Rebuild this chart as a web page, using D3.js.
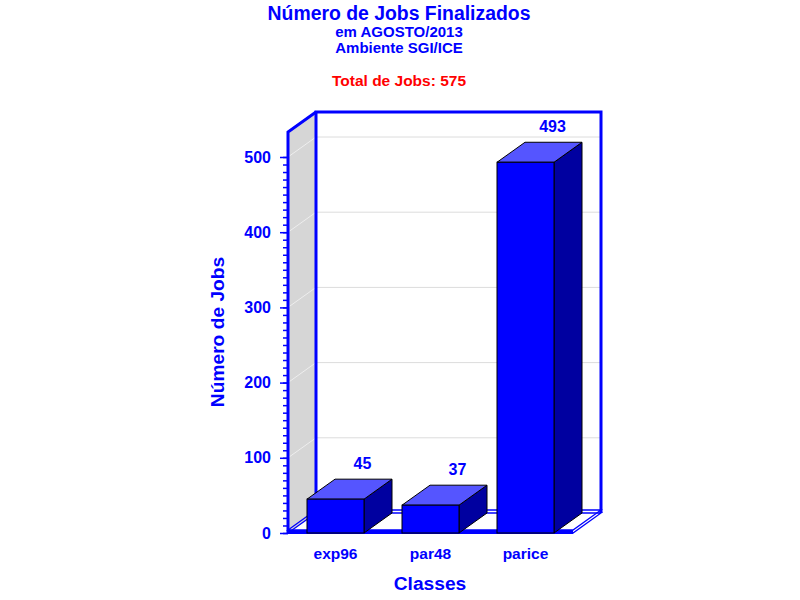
<!DOCTYPE html>
<html>
<head>
<meta charset="utf-8">
<script src="https://cdn.jsdelivr.net/npm/d3@7"></script>
<style>
  body { margin: 0; background: #fff; }
  text { font-family: "Liberation Sans", Arial, sans-serif; font-weight: bold; }
</style>
</head>
<body>
<div id="chart"></div>
<script>
// data
const categories = ["exp96", "par48", "parice"];
const jobs = [45, 37, 493];
const yTicks = [0, 100, 200, 300, 400, 500];
const minorTicks = d3.range(0, 501, 10);
const titleLines = ["Número de Jobs Finalizados", "em AGOSTO/2013", "Ambiente SGI/ICE"];
const totalLabel = "Total de Jobs: 575";
const yTitle = "Número de Jobs";
const xTitle = "Classes";

var width = 800,
  height = 600;

var blue = "#0000ff";

// 3d depth offset of the frame
var dx = 28,
  dy = -20;

var left = 288,
  right = 573,
  floorY = 533,
  topY = 132;

var x = d3
  .scaleBand()
  .domain(categories)
  .range([left, right])
  .paddingInner(0.4)
  .paddingOuter(0.2);

var y = d3.scaleLinear().domain([0, 500]).range([floorY, 157]);

var svg = d3
  .select("#chart")
  .append("svg")
  .attr("width", width)
  .attr("height", height);

var line = d3.line();

// left wall
svg
  .append("path")
  .attr("d", line([[left, floorY], [left, topY], [left + dx, topY + dy], [left + dx, floorY + dy]]) + "Z")
  .attr("fill", "#d6d6d6");

// wall grid lines
svg
  .selectAll(".wall-grid")
  .data(yTicks.slice(1))
  .enter()
  .append("path")
  .attr("class", "wall-grid")
  .attr("d", (d) => line([[left, y(d)], [left + dx, y(d) + dy]]))
  .attr("stroke", "#eeeeee")
  .attr("stroke-width", 1);

// back wall grid lines
svg
  .selectAll(".back-grid")
  .data(yTicks.slice(1))
  .enter()
  .append("path")
  .attr("class", "back-grid")
  .attr("d", (d) => line([[left + dx, y(d) + dy], [right + dx, y(d) + dy]]))
  .attr("stroke", "#dcdcdc")
  .attr("stroke-width", 1);

// floor slab: two outlines
[0, -3].forEach(function (off) {
  svg
    .append("path")
    .attr("d", line([[left, floorY + off], [right, floorY + off], [right + dx, floorY + dy + off], [left + dx, floorY + dy + off]]) + "Z")
    .attr("fill", "none")
    .attr("stroke", blue)
    .attr("stroke-width", 1.3);
});
svg
  .append("path")
  .attr("d", line([[left, floorY - 1], [right, floorY - 1]]))
  .attr("stroke", blue)
  .attr("stroke-width", 4);

// frame edges
svg
  .append("path")
  .attr("d", line([[left + dx, floorY + dy], [left + dx, topY + dy], [right + dx, topY + dy], [right + dx, floorY + dy]]))
  .attr("fill", "none")
  .attr("stroke", blue)
  .attr("stroke-width", 3);
svg
  .append("path")
  .attr("d", line([[left, floorY], [left, topY], [left + dx, topY + dy]]))
  .attr("fill", "none")
  .attr("stroke", blue)
  .attr("stroke-width", 3);

// y axis ticks
svg
  .append("g")
  .attr("transform", "translate(" + left + ",0)")
  .call(d3.axisLeft(y).tickValues(minorTicks).tickSize(5).tickFormat(""))
  .call((g) => g.select(".domain").remove())
  .call((g) => g.selectAll("line").attr("stroke", blue).attr("stroke-width", 1.5));

var yAxis = svg
  .append("g")
  .attr("transform", "translate(" + left + ",0)")
  .call(d3.axisLeft(y).tickValues(yTicks).tickSize(8).tickPadding(9))
  .call((g) => g.select(".domain").remove());
yAxis.selectAll("line").attr("stroke", blue).attr("stroke-width", 1.5);
yAxis
  .selectAll("text")
  .attr("fill", blue)
  .attr("font-size", 16)
  .attr("font-family", "Liberation Sans, Arial, sans-serif")
  .attr("font-weight", "bold");

// bars
var bw = x.bandwidth();
var bars = svg
  .selectAll(".bar")
  .data(categories.map((c, i) => ({ cat: c, value: jobs[i] })))
  .enter()
  .append("g")
  .attr("class", "bar");

bars
  .append("path")
  .attr("d", function (d) {
    var x0 = x(d.cat) + bw,
      y0 = y(d.value);
    return line([[x0, y0], [x0 + dx, y0 + dy], [x0 + dx, floorY + dy], [x0, floorY]]) + "Z";
  })
  .attr("fill", "#0000a0")
  .attr("stroke", "#000")
  .attr("stroke-width", 1);

bars
  .append("path")
  .attr("d", function (d) {
    var x0 = x(d.cat),
      y0 = y(d.value);
    return line([[x0, y0], [x0 + dx, y0 + dy], [x0 + bw + dx, y0 + dy], [x0 + bw, y0]]) + "Z";
  })
  .attr("fill", "#5555ff")
  .attr("stroke", "#000")
  .attr("stroke-width", 1);

bars
  .append("rect")
  .attr("x", (d) => x(d.cat))
  .attr("y", (d) => y(d.value))
  .attr("width", bw)
  .attr("height", (d) => floorY - y(d.value))
  .attr("fill", blue)
  .attr("stroke", "#000")
  .attr("stroke-width", 1);

bars
  .append("text")
  .attr("x", (d) => x(d.cat) + bw / 2 + dx - 1)
  .attr("y", (d) => y(d.value) + dy - 10)
  .attr("text-anchor", "middle")
  .attr("font-size", 16)
  .attr("fill", blue)
  .text((d) => d.value);

// category labels
svg
  .selectAll(".cat-label")
  .data(categories)
  .enter()
  .append("text")
  .attr("class", "cat-label")
  .attr("x", (d) => x(d) + bw / 2)
  .attr("y", 559)
  .attr("text-anchor", "middle")
  .attr("font-size", 15.5)
  .attr("fill", blue)
  .text((d) => d);

// titles
svg
  .selectAll(".title")
  .data(titleLines)
  .enter()
  .append("text")
  .attr("class", "title")
  .attr("x", 399)
  .attr("y", (d, i) => (i === 0 ? 19.5 : 20 + i * 16.5))
  .attr("text-anchor", "middle")
  .attr("font-size", (d, i) => (i === 0 ? 19.4 : 15))
  .attr("fill", blue)
  .text((d) => d);

svg
  .append("text")
  .attr("x", 399)
  .attr("y", 86)
  .attr("text-anchor", "middle")
  .attr("font-size", 15.5)
  .attr("fill", "#ff0000")
  .text(totalLabel);

svg
  .append("text")
  .attr("transform", "translate(224,332) rotate(-90)")
  .attr("text-anchor", "middle")
  .attr("font-size", 19.2)
  .attr("fill", blue)
  .text(yTitle);

svg
  .append("text")
  .attr("x", 430)
  .attr("y", 590)
  .attr("text-anchor", "middle")
  .attr("font-size", 19.2)
  .attr("fill", blue)
  .text(xTitle);
</script>
</body>
</html>
